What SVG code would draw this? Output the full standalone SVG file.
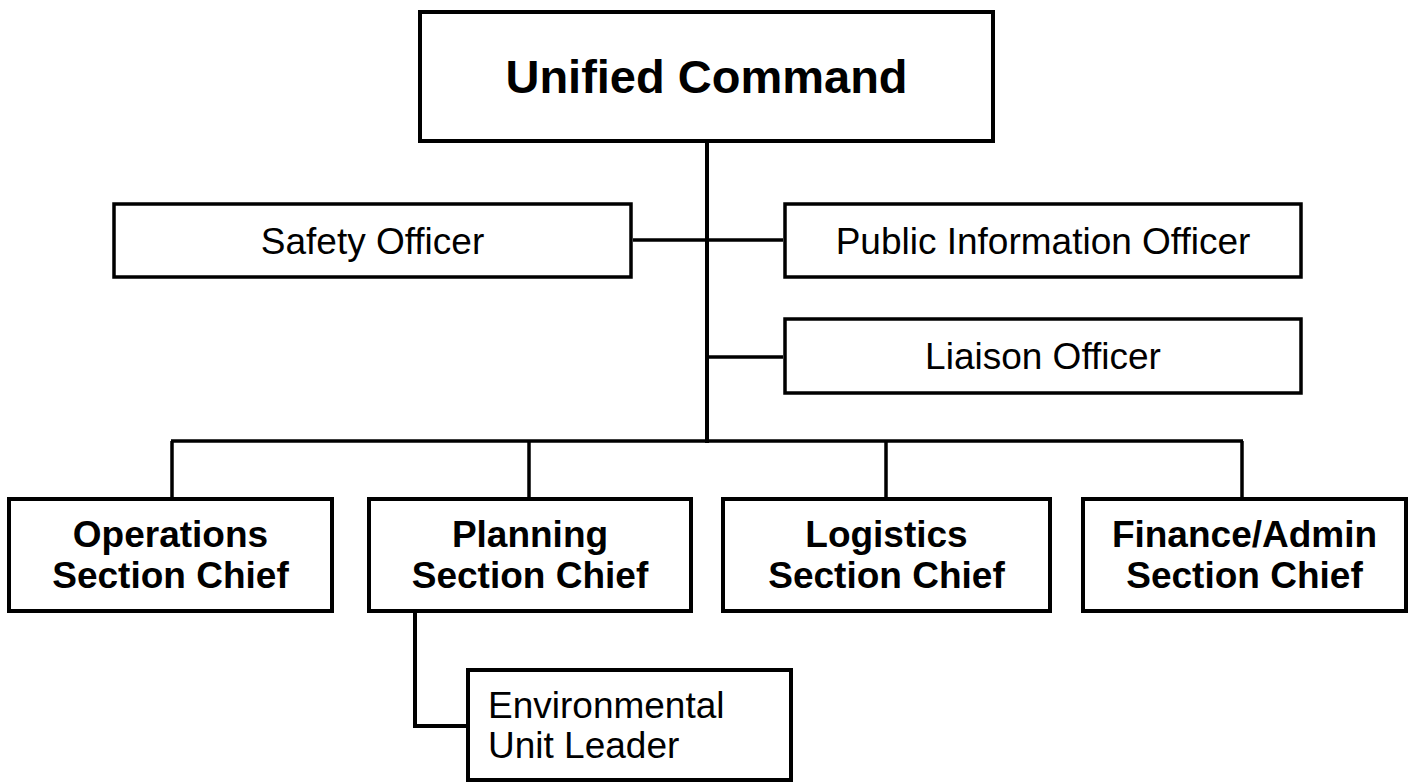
<svg xmlns="http://www.w3.org/2000/svg" width="1416" height="782" viewBox="0 0 1416 782">
<style>
.box{fill:#fff;stroke:#000;stroke-width:4}
.ln{fill:none;stroke:#000;stroke-width:3.5}
.t{font-family:"Liberation Sans",Arial,sans-serif;font-size:37px;fill:#000;text-anchor:middle}
.b{font-weight:bold}
.l{text-anchor:start}
</style>
<rect width="1416" height="782" fill="#fff"/>
<g id="connectors">
<line class="ln" x1="707" y1="143" x2="707" y2="443" style="stroke-width:4"/>
<line class="ln" x1="633" y1="240" x2="783" y2="240"/>
<line class="ln" x1="707" y1="357" x2="783" y2="357"/>
<line class="ln" x1="171" y1="441" x2="1243" y2="441"/>
<line class="ln" x1="172" y1="441" x2="172" y2="497"/>
<line class="ln" x1="529" y1="441" x2="529" y2="497"/>
<line class="ln" x1="886" y1="441" x2="886" y2="497"/>
<line class="ln" x1="1242" y1="441" x2="1242" y2="497"/>
<polyline class="ln" points="415,613 415,726 466,726" style="stroke-width:4"/>
</g>
<g id="unified-command">
<rect class="box" x="420" y="12" width="573" height="129"/>
<text class="t b" x="706.5" y="93" style="font-size:47px">Unified Command</text>
</g>
<g id="safety-officer">
<rect class="box" x="114" y="204" width="517" height="73" style="stroke-width:3.5"/>
<text class="t" x="372.5" y="254">Safety Officer</text>
</g>
<g id="public-information-officer">
<rect class="box" x="785" y="204" width="516" height="73" style="stroke-width:3.5"/>
<text class="t" x="1043" y="254">Public Information Officer</text>
</g>
<g id="liaison-officer">
<rect class="box" x="785" y="319" width="516" height="74" style="stroke-width:3.5"/>
<text class="t" x="1043" y="369">Liaison Officer</text>
</g>
<g id="operations">
<rect class="box" x="9" y="499" width="323" height="112"/>
<text class="t b" x="170.5" y="547">Operations</text>
<text class="t b" x="170.5" y="588">Section Chief</text>
</g>
<g id="planning">
<rect class="box" x="369" y="499" width="322" height="112"/>
<text class="t b" x="530" y="547">Planning</text>
<text class="t b" x="530" y="588">Section Chief</text>
</g>
<g id="logistics">
<rect class="box" x="723" y="499" width="327" height="112"/>
<text class="t b" x="886.5" y="547">Logistics</text>
<text class="t b" x="886.5" y="588">Section Chief</text>
</g>
<g id="finance-admin">
<rect class="box" x="1083" y="499" width="323" height="112"/>
<text class="t b" x="1244.5" y="547">Finance/Admin</text>
<text class="t b" x="1244.5" y="588">Section Chief</text>
</g>
<g id="environmental-unit-leader">
<rect class="box" x="468" y="670" width="323" height="110"/>
<text class="t l" x="488" y="718">Environmental</text>
<text class="t l" x="488" y="758">Unit Leader</text>
</g>
</svg>
